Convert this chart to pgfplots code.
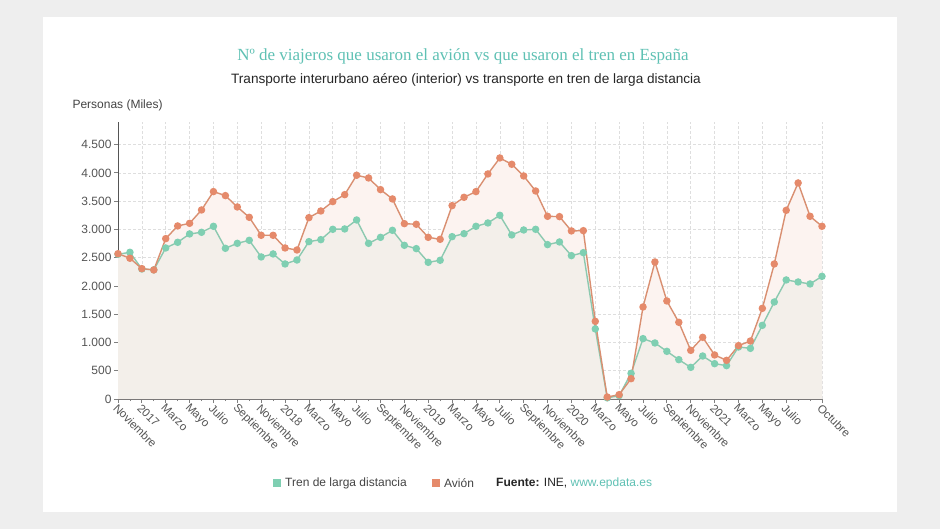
\documentclass[border=0pt]{standalone}
\usepackage{pgfplots}
\pgfplotsset{compat=1.18}
\usepackage{pgfplotstable}
\usepackage{fontspec}
\setmainfont{Liberation Sans}
\newfontfamily\titlefont{Liberation Serif}

\definecolor{bgout}{HTML}{EEEEEE}
\definecolor{teal1}{HTML}{5FC1B4}
\definecolor{tren}{HTML}{7FCFB2}
\definecolor{trenline}{HTML}{8CC9B0}
\definecolor{avion}{HTML}{E58A6B}
\definecolor{avionline}{HTML}{D98F71}
\definecolor{txt}{HTML}{444444}
\definecolor{tick}{HTML}{555555}
\definecolor{trenfill}{HTML}{F3EFEA}

% meses desde noviembre 2016 (0) hasta octubre 2021 (59), miles de personas
\pgfplotstableread{
i  tren  avion
0  2560  2570
1  2595  2490
2  2300  2306
3  2285  2283
4  2672  2837
5  2772  3061
6  2920  3108
7  2949  3344
8  3055  3669
9  2666  3598
10 2754  3397
11 2807  3214
12 2513  2896
13 2566  2896
14 2389  2672
15 2459  2636
16 2784  3208
17 2819  3326
18 3002  3492
19 3008  3615
20 3167  3958
21 2754  3910
22 2860  3704
23 2984  3539
24 2719  3102
25 2660  3091
26 2418  2860
27 2454  2825
28 2872  3421
29 2925  3568
30 3055  3669
31 3114  3981
32 3250  4264
33 2902  4152
34 2990  3946
35 3002  3680
36 2731  3232
37 2778  3226
38 2536  2973
39 2589  2978
40 1239  1374
41 20    35
42 60    77
43 454   360
44 1068  1628
45 991   2424
46 843   1734
47 696   1357
48 560   861
49 761   1091
50 625   779
51 590   684
52 920   944
53 896   1026
54 1303  1604
55 1716  2389
56 2106  3338
57 2070  3822
58 2035  3232
59 2170  3055
}\datos

\begin{document}
\begin{tikzpicture}
% fondo y tarjeta
\fill[bgout] (0pt,0pt) rectangle (940pt,-529pt);
\fill[white] (43pt,-17pt) rectangle (897pt,-512pt);

\node[font=\titlefont\fontsize{17}{19}\selectfont, text=teal1] at (463pt,-56pt) {Nº de viajeros que usaron el avión vs que usaron el tren en España};
\node[font=\fontsize{13.6}{15}\selectfont, text=black!85] at (466pt,-80pt) {Transporte interurbano aéreo (interior) vs transporte en tren de larga distancia};
\node[font=\fontsize{12}{13}\selectfont, text=txt, anchor=west] at (69pt,-105pt) {Personas (Miles)};

\begin{axis}[
    at={(118pt,-399pt)}, anchor=south west,
    scale only axis,
    width=704pt, height=277pt,
    xmin=0, xmax=59,
    ymin=0, ymax=4900,
    axis x line*=bottom,
    axis y line*=left,
    axis line style={tick, line width=1pt},
    xtick={0,2,...,56,59},
    xticklabels={Noviembre,2017,Marzo,Mayo,Julio,Septiembre,
                 Noviembre,2018,Marzo,Mayo,Julio,Septiembre,
                 Noviembre,2019,Marzo,Mayo,Julio,Septiembre,
                 Noviembre,2020,Marzo,Mayo,Julio,Septiembre,
                 Noviembre,2021,Marzo,Mayo,Julio,Octubre},
    minor xtick={1,3,...,57,58},
    ytick={0,500,...,4500},
    tick align=outside,
    major tick length=4pt,
    minor tick length=2pt,
    tick style={tick, line width=0.8pt},
    grid=major,
    major grid style={densely dashed, black!13, line width=0.6pt},
    xticklabel style={rotate=-45, anchor=west, font=\fontsize{11.5}{13}\selectfont, text=tick, xshift=-3pt, yshift=-4pt},
    yticklabel style={font=\fontsize{12}{13}\selectfont, text=tick, xshift=1pt},
    /pgf/number format/assume math mode=true,
    /pgf/number format/1000 sep={.},
    clip=false,
]
\addplot[draw=none, fill=avion!10] table[x=i, y=avion] {\datos} \closedcycle;
\addplot[draw=none, fill=trenfill] table[x=i, y=tren] {\datos} \closedcycle;
\addplot[color=trenline, line width=1.4pt, mark=*, mark size=3pt,
    mark options={fill=tren, draw=tren}] table[x=i, y=tren] {\datos};
\addplot[color=avionline, line width=1.4pt, mark=*, mark size=3pt,
    mark options={fill=avion, draw=avion}] table[x=i, y=avion] {\datos};
\end{axis}

% leyenda
\fill[tren] (273pt,-479pt) rectangle (281pt,-487pt);
\node[font=\fontsize{12}{14}\selectfont, text=txt, anchor=west, inner sep=0pt] at (285pt,-483pt) {Tren de larga distancia};
\fill[avion] (432pt,-479pt) rectangle (440pt,-487pt);
\node[font=\fontsize{12}{14}\selectfont, text=txt, anchor=west, inner sep=0pt] at (444pt,-483pt) {Avión};
\node[font=\fontsize{12}{14}\selectfont, text=black!85, anchor=west, inner sep=0pt] at (496pt,-483pt) {\textbf{Fuente:} INE, \textcolor{teal1}{www.epdata.es}};
\end{tikzpicture}
\end{document}
